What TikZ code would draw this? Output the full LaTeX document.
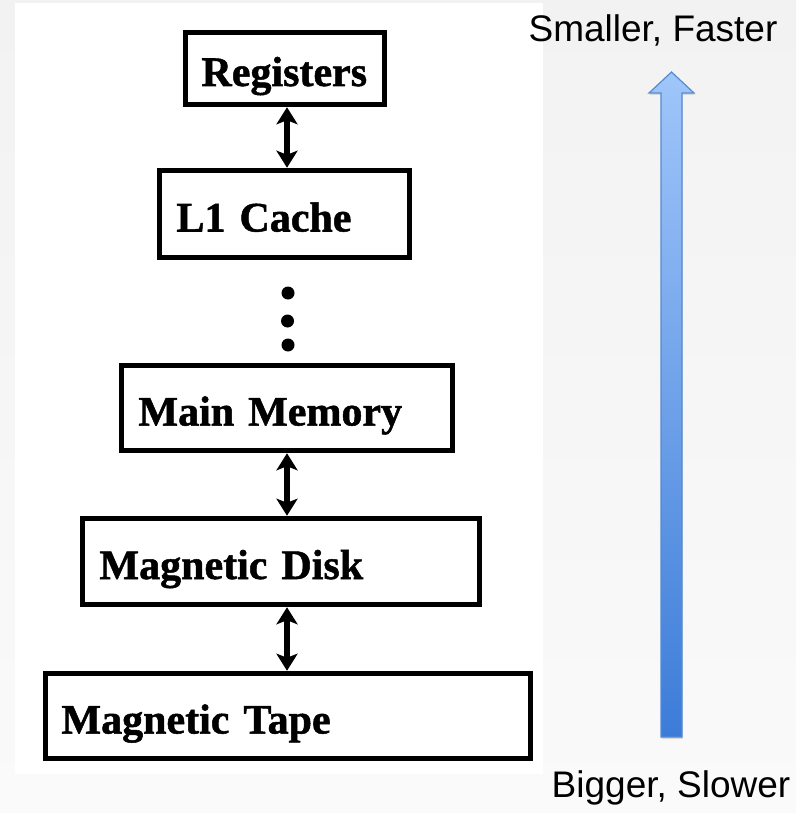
\documentclass[tikz,border=0pt]{standalone}
\usepackage{fontspec}
\setmainfont{Liberation Serif}
\newfontfamily\labelsans{Liberation Sans}
\newfontfamily\levelfont[FakeBold=1.2]{Liberation Serif Bold}
\usetikzlibrary{arrows.meta,shadows}

\definecolor{bgtop}{RGB}{242,242,242}
\definecolor{bgbottom}{RGB}{250,250,250}
\definecolor{arrowlight}{RGB}{160,198,250}
\definecolor{arrowdark}{RGB}{60,124,216}
\definecolor{arrowedge}{RGB}{84,138,210}

\tikzset{
  level/.style={draw=black, line width=5.5pt, fill=white, rectangle,
    align=left, font=\levelfont\fontsize{42}{48}\selectfont,
    text height=35pt, text depth=0pt, inner ysep=0pt},
  twohead/.tip={Stealth[length=17pt, width=21pt, inset=4pt]},
  link/.style={line width=5.5pt, arrows={twohead-twohead}},
  gap/.style={circle, fill=black, inner sep=0pt, minimum size=13pt},
  axislabel/.style={font=\labelsans\fontsize{37}{44}\selectfont, anchor=base, inner sep=0pt}
}

\begin{document}
\begin{tikzpicture}[x=1pt, y=-1pt]
  % canvas and white panel
  \fill[top color=bgtop, bottom color=bgbottom] (0,0) rectangle (796,813);
  \fill[white] (15,3) rectangle (543,774);
  \useasboundingbox (0,0) rectangle (796,813);

  % memory hierarchy levels
  \node[level, minimum width=199pt, minimum height=72pt, inner xsep=16pt, text width=167pt]
    (reg) at (285,68.5) {Registers};
  \node[level, minimum width=250pt, minimum height=87pt, inner xsep=17pt, text width=216pt]
    (lone) at (284.5,214) {L1 Cache};
  \node[level, minimum width=331pt, minimum height=85pt, inner xsep=17pt, text width=297pt]
    (mem) at (287,408) {Main Memory};
  \node[level, minimum width=397pt, minimum height=86pt, inner xsep=17pt, text width=363pt]
    (disk) at (281,561.5) {Magnetic Disk};
  \node[level, minimum width=485pt, minimum height=85pt, inner xsep=16pt, text width=453pt]
    (tape) at (288,716) {Magnetic Tape};

  % ellipsis between L1 cache and main memory
  \node[gap] (d1) at (288,293) {};
  \node[gap] (d2) at (287.5,321) {};
  \node[gap] (d3) at (288,345) {};

  % two-way transfers
  \coordinate (spine) at (287,0);
  \draw[link] (reg.south -| spine) -- (lone.north -| spine);
  \draw[link] (mem.south -| spine) -- (disk.north -| spine);
  \draw[link] (disk.south -| spine) -- (tape.north -| spine);

  % speed / size axis
  \node[axislabel] (fast) at (653,42) {Smaller, Faster};
  \node[axislabel] (slow) at (671,797) {Bigger, Slower};
  \draw[arrowedge, line width=1.2pt, top color=arrowlight, bottom color=arrowdark,
        drop shadow={opacity=0.25, shadow xshift=0.5pt, shadow yshift=-2pt}]
    (671.5,72) -- (694,93) -- (682,93) -- (682,737) -- (661,737) -- (661,93)
    -- (649,93) -- cycle;
\end{tikzpicture}
\end{document}
